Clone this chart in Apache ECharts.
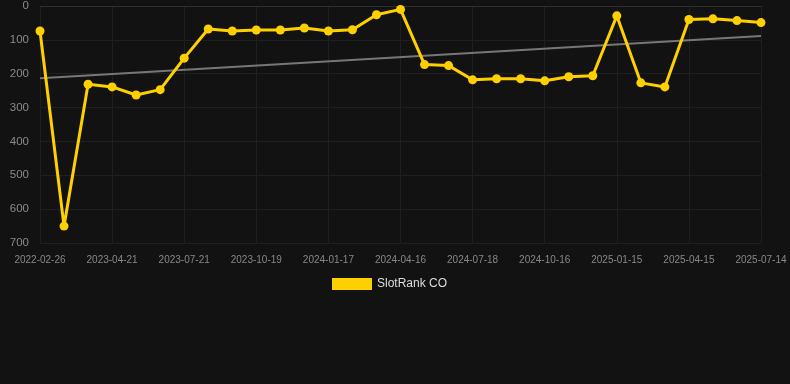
<!DOCTYPE html>
<html><head><meta charset="utf-8">
<script src="https://cdn.jsdelivr.net/npm/echarts@6/dist/echarts.min.js"></script>
<style>html,body{margin:0;padding:0;background:#121212;}#c{width:790px;height:384px;}</style>
</head><body><div id="c"></div>
<script>
const categories = ["2022-02-26","2023-02-20","2023-03-22","2023-04-21","2023-05-21","2023-06-20","2023-07-21","2023-08-20","2023-09-19","2023-10-19","2023-11-18","2023-12-18","2024-01-17","2024-02-16","2024-03-17","2024-04-16","2024-05-17","2024-06-17","2024-07-18","2024-08-17","2024-09-16","2024-10-16","2024-11-15","2024-12-15","2025-01-15","2025-02-14","2025-03-16","2025-04-15","2025-05-15","2025-06-14","2025-07-14"];
const rankValues = [74,650,231,239,263,247,154,68,74,71,71,65,74,70,26,10,173,176,218,215,215,221,209,206,29,227,239,40,38,43,49];
const seriesName = "SlotRank CO";

// linear regression trend of the series
const n = rankValues.length;
let sx=0, sy=0, sxy=0, sxx=0;
rankValues.forEach((v,i)=>{sx+=i;sy+=v;sxy+=i*v;sxx+=i*i;});
const slope = (n*sxy - sx*sy)/(n*sxx - sx*sx);
const icpt = (sy - slope*sx)/n;
const trend = rankValues.map((v,i)=> (i===0||i===n-1) ? +(icpt+slope*i).toFixed(2) : null);

const chart = echarts.init(document.getElementById('c'));
chart.setOption({
  backgroundColor:'#121212',
  animation:false,
  grid:{left:40,right:29,top:6,bottom:141},
  legend:{top:273,left:327,itemWidth:40,itemHeight:12,itemGap:10,
    textStyle:{color:'#dddddd',fontSize:12,fontFamily:'Arial, Liberation Sans, sans-serif'},
    data:[{name:seriesName,icon:'rect'}]},
  xAxis:{type:'category',data:categories,boundaryGap:false,
    axisLine:{lineStyle:{color:'#2e2e2e'}},axisTick:{show:false},
    axisLabel:{interval:2,color:'#888888',fontSize:10,margin:12,fontFamily:'Arial, Liberation Sans, sans-serif'},
    splitLine:{show:true,interval:2,lineStyle:{color:'#1f1f1f'}}},
  yAxis:{type:'value',inverse:true,min:0,max:700,interval:100,
    axisLine:{show:false},axisTick:{show:false},
    axisLabel:{color:'#8a8a8a',fontSize:11.5,margin:11,fontFamily:'Arial, Liberation Sans, sans-serif'},
    splitLine:{lineStyle:{color:'#1f1f1f'}}},
  series:[
    {name:'trend',type:'line',data:trend,connectNulls:true,symbol:'none',silent:true,
     lineStyle:{color:'#777777',width:2},z:1},
    {name:seriesName,type:'line',data:rankValues,symbol:'circle',symbolSize:9,
     itemStyle:{color:'#FFD000'},lineStyle:{color:'#FFD000',width:3},z:2}
  ]
});
</script></body></html>
